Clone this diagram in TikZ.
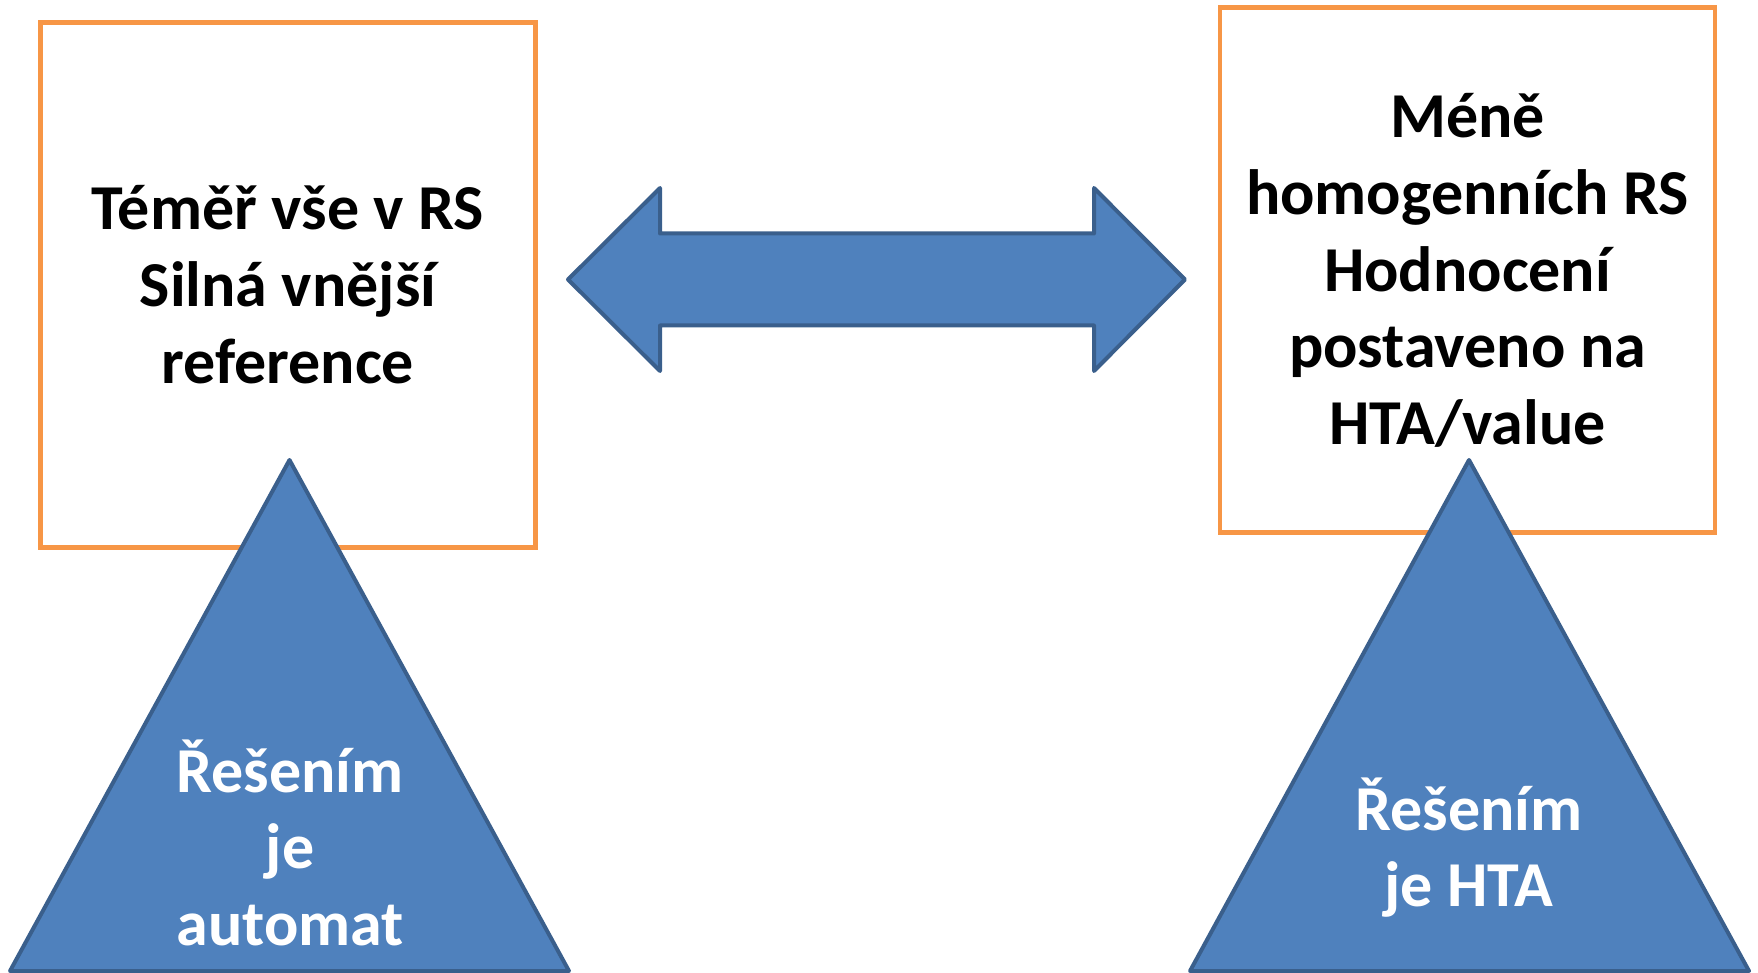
\documentclass[tikz,border=0pt]{standalone}
\usepackage{fontspec}
\setmainfont{Carlito}
\definecolor{accblue}{HTML}{4F81BD}
\definecolor{accbluedark}{HTML}{3A5F8C}
\definecolor{accorange}{HTML}{F79646}
\newcommand{\mylines}[1]{\parbox[t]{700pt}{\centering\fontsize{64}{76.6}\selectfont\bfseries #1}}
\begin{document}
\begin{tikzpicture}[x=1pt,y=-1pt,
  obox/.style={draw=accorange,line width=4.5pt,fill=white,rectangle,inner sep=0pt},
  bshape/.style={draw=accbluedark,line width=4pt,fill=accblue,line join=round},
  btext/.style={anchor=base,inner sep=0pt,text=black},
  wtext/.style={anchor=base,inner sep=0pt,text=white}]
\useasboundingbox (0,0) rectangle (1758,973);
% boxes
\node[obox,minimum width=495pt,minimum height=525pt] (lbox) at (288,285) {};
\node[obox,minimum width=495pt,minimum height=525pt] (rbox) at (1467.5,270) {};
\node[btext] (ltext) at (288,230) {\mylines{Téměř vše v RS\\Silná vnější\\reference}};
\node[btext] (rtext) at (1467.5,138) {\mylines{Méně\\homogenních RS\\Hodnocení\\postaveno na\\HTA/value}};
% double arrow
\draw[bshape] (568,279.5) -- (660,188) -- (660,233.5) -- (1094,233.5) -- (1094,188)
  -- (1185,279.5) -- (1094,371) -- (1094,325.5) -- (660,325.5) -- (660,371) -- cycle;
% triangles
\draw[bshape] (289.5,460) -- (569,971) -- (10,971) -- cycle;
\draw[bshape] (1469,460) -- (1749,971) -- (1190,971) -- cycle;
\node[wtext] (lttext) at (290,792) {\mylines{Řešením\\je\\automat}};
\node[wtext] (rttext) at (1469,830) {\mylines{Řešením\\je HTA}};
\end{tikzpicture}
\end{document}
